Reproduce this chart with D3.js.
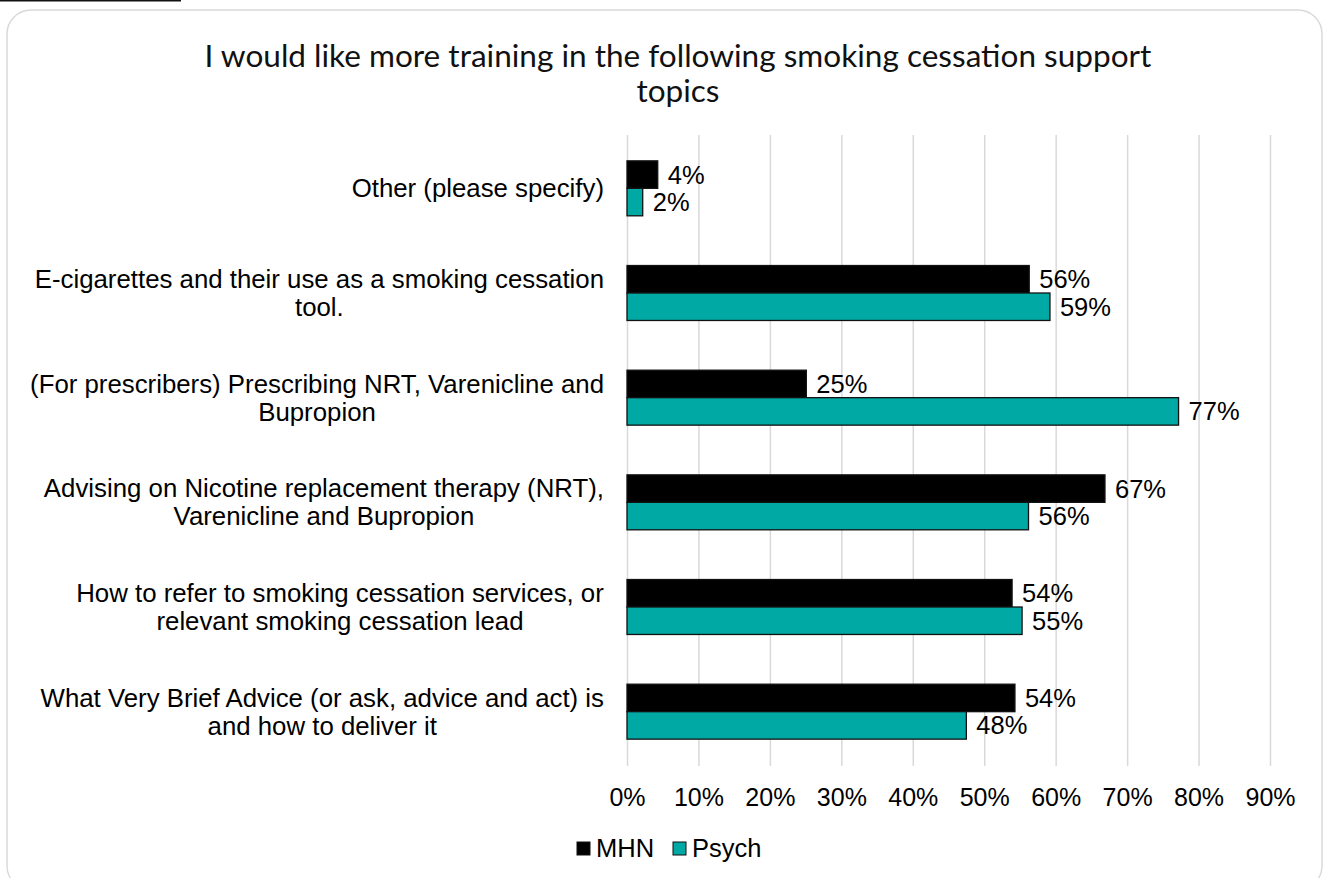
<!DOCTYPE html>
<html><head><meta charset="utf-8">
<script src="https://cdn.jsdelivr.net/npm/d3@7"></script>
<style>html,body{margin:0;padding:0;background:#fff;overflow:hidden}</style>
</head><body>
<svg id="chart" width="1324" height="878"></svg>
<script>
const categories = [
  ["Other (please specify)"],
  ["E-cigarettes and their use as a smoking cessation", "tool."],
  ["(For prescribers) Prescribing NRT, Varenicline and", "Bupropion"],
  ["Advising on Nicotine replacement therapy (NRT),", "Varenicline and Bupropion"],
  ["How to refer to smoking cessation services, or", "relevant smoking cessation lead"],
  ["What Very Brief Advice (or ask, advice and act) is", "and how to deliver it"]
];
const seriesNames = ["MHN", "Psych"];
const mhnValues   = [0.043, 0.563, 0.251, 0.669, 0.539, 0.543];
const psychValues = [0.022, 0.592, 0.772, 0.562, 0.553, 0.475];
const mhnLabels   = ["4%", "56%", "25%", "67%", "54%", "54%"];
const psychLabels = ["2%", "59%", "77%", "56%", "55%", "48%"];
const tickValues  = [0, 0.1, 0.2, 0.3, 0.4, 0.5, 0.6, 0.7, 0.8, 0.9];
const titleLines  = ["I would like more training in the following smoking cessation support", "topics"];
const colors = ["#000000", "#00A9A4"];

const svg = d3.select("#chart");
const font = "'Liberation Sans', Arial, sans-serif";
const FS_CAT = 25.8;
const FS_VAL = 25.5;

// header fragment at top-left (cut-off underlined heading)
svg.append("line").attr("x1", 0).attr("x2", 181).attr("y1", 0.8).attr("y2", 0.8)
  .attr("stroke", "#111").attr("stroke-width", 1.6);

// outer rounded frame
svg.append("rect").attr("x", 7).attr("y", 10).attr("width", 1315).attr("height", 880)
  .attr("rx", 24).attr("ry", 24).attr("fill", "#fff").attr("stroke", "#d9d9d9").attr("stroke-width", 1.5);

const x = d3.scaleLinear().domain([0, 0.9]).range([627, 1270]);
const y = d3.scaleBand().domain(d3.range(categories.length)).range([136, 764])
  .paddingInner(0.475).paddingOuter(0.2375);
const ySub = d3.scaleBand().domain([0, 1]).range([0, y.bandwidth()]);

// gridlines via axis
const gx = svg.append("g").attr("transform", "translate(0,766)")
  .call(d3.axisBottom(x).tickValues(tickValues).tickSize(-631).tickFormat(d3.format(".0%")));
gx.select(".domain").remove();
gx.selectAll(".tick line").attr("stroke", "#d9d9d9").attr("stroke-width", 1.5);
gx.selectAll(".tick text").attr("font-family", font).attr("font-size", 25).attr("fill", "#000")
  .attr("y", 0).attr("dy", 0).attr("transform", "translate(0,40)");

// bars
const data = [];
categories.forEach((c, i) => {
  data.push({i, s: 0, v: mhnValues[i], label: mhnLabels[i]});
  data.push({i, s: 1, v: psychValues[i], label: psychLabels[i]});
});
svg.append("g").selectAll("rect").data(data).join("rect")
  .attr("x", x(0)).attr("y", d => y(d.i) + ySub(d.s))
  .attr("width", d => x(d.v) - x(0)).attr("height", ySub.bandwidth())
  .attr("fill", d => colors[d.s]).attr("stroke", "#111").attr("stroke-width", 1.3);

svg.append("g").selectAll("text").data(data).join("text")
  .attr("x", d => x(d.v) + 10).attr("y", d => y(d.i) + ySub(d.s) + ySub.bandwidth() / 2 + 9)
  .attr("font-family", font).attr("font-size", FS_VAL).attr("fill", "#000").text(d => d.label);

// category labels
const catG = svg.append("g");
categories.forEach((lines, i) => {
  const cy = y(i) + y.bandwidth() / 2;
  const lh = 28;
  const t = catG.append("text").attr("font-family", font).attr("font-size", FS_CAT).attr("fill", "#000")
    .attr("text-anchor", lines.length > 1 ? "middle" : "end");
  lines.forEach((ln, k) => {
    t.append("tspan").attr("x", 0).attr("y", cy - (lines.length - 1) * lh / 2 + k * lh + 9).text(ln);
  });
  if (lines.length > 1) {
    const w = t.node().getBBox().width;
    t.attr("transform", `translate(${604 - w / 2},0)`);
  } else {
    t.attr("transform", `translate(604,0)`);
  }
});

// title
const title = svg.append("g").attr("font-family", "Lato, 'Open Sans', sans-serif").attr("fill", "#111");
const t1 = title.append("text").attr("x", 678).attr("y", 67).attr("text-anchor", "middle")
  .attr("font-size", 26).text(titleLines[0]);
const w1 = t1.node().getComputedTextLength();
const fs = 26 * 947 / w1;
t1.attr("font-size", fs);
title.append("text").attr("x", 678).attr("y", 102).attr("text-anchor", "middle")
  .attr("font-size", fs).text(titleLines[1]);

// legend
const leg = svg.append("g");
const legX = [577, 673];
seriesNames.forEach((n, k) => {
  leg.append("rect").attr("x", legX[k]).attr("y", 842).attr("width", 13).attr("height", 13)
    .attr("fill", colors[k]).attr("stroke", "#111").attr("stroke-width", 1);
  leg.append("text").attr("x", legX[k] + 19).attr("y", 857).attr("font-family", font)
    .attr("font-size", FS_VAL).attr("fill", "#000").text(n);
});
</script>
</body></html>
